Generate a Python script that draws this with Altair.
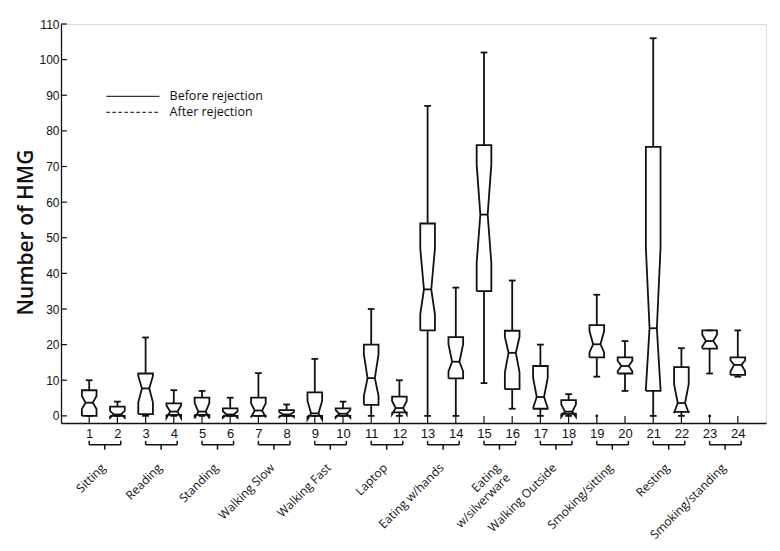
import altair as alt
import pandas as pd

# ---------------- data ----------------
box_id   = list(range(1, 25))
w_lo     = [0, 0, 0, 0, 0, 0, 0, 0, 0, 0, 0, 0, 0, 0, 9.2, 2.0, 0, 0, 11.0, 7.0, 0, 0, 11.9, 11.0]
q1       = [0, 0, 0.5, 0.3, 0.3, 0, 0, 0, 0, 0, 3.1, 1.0, 24.0, 10.5, 35.0, 7.5, 2.0, 0.6, 16.4, 11.9, 7.0, 1.1, 18.9, 11.5]
med      = [3.7, 0.4, 7.7, 1.2, 1.2, 0.4, 1.5, 0.4, 0.7, 0.6, 10.6, 2.2, 35.5, 15.2, 56.5, 17.7, 5.3, 1.2, 20.1, 14.0, 24.6, 3.6, 21.0, 14.3]
q3       = [7.2, 2.6, 11.9, 3.5, 5.1, 2.1, 5.1, 1.6, 6.6, 2.1, 20.0, 5.4, 54.0, 22.1, 76.0, 23.9, 14.0, 4.4, 25.5, 16.4, 75.5, 13.7, 24.0, 16.4]
w_hi     = [10, 4, 22, 7.2, 7.0, 5.1, 12, 3.2, 16, 4.0, 30, 10, 87, 36, 102, 38, 20, 6.1, 34, 21, 106, 19, 24, 24]
notch_lo = [1.9, -0.5, 3.8, -0.6, -0.7, -0.5, -0.4, -0.3, -1.0, -0.5, 5.6, 0.4, 28.5, 12.5, 43.0, 12.2, 2.2, -0.3, 17.8, 12.5, 7.5, 0.8, 19.5, 12.5]
notch_hi = [5.6, 1.4, 11.2, 2.9, 3.6, 1.3, 3.5, 1.1, 4.2, 1.6, 17.3, 4.2, 47.0, 20.1, 70.6, 22.2, 10.7, 3.2, 23.8, 15.5, 47.2, 8.9, 22.8, 15.6]
outlier_box = [19, 23]
outlier_val = [0, 0]
activities = ["Sitting", "Reading", "Standing", "Walking Slow", "Walking Fast", "Laptop",
              "Eating w/hands", "Eating\nw/silverware", "Walking Outside", "Smoking/sitting",
              "Resting", "Smoking/standing"]
y_ticks = list(range(0, 111, 10))
legend_labels = ["Before rejection", "After rejection"]
legend_styles = ["solid", "dash"]

# ---------------- geometry / style constants ----------------
HW, NW, CAP = 0.26, 0.13, 0.12          # half widths (x units)
Y_MIN, Y_MAX = -2, 110
X_MIN, X_MAX = 0, 25
SW = 1.8
INK = "#111111"

xs = alt.Scale(domain=[X_MIN, X_MAX], nice=False, zero=False)
ys = alt.Scale(domain=[Y_MIN, Y_MAX], nice=False, zero=False)

X_AX = alt.Axis(values=box_id, ticks=False, grid=False, labelFont="Liberation Sans",
                labelFontSize=13, labelColor=INK, labelPadding=4, domainColor=INK,
                domainWidth=1.3, labelFlush=False)
Y_AX = alt.Axis(values=y_ticks, ticks=False, grid=False, labelFont="Liberation Sans",
                labelFontSize=12, labelColor=INK, labelPadding=2, domainColor=INK,
                domainWidth=1.3, titleFont="Open Sans", titleFontSize=21,
                titleFontWeight=600, titleColor=INK, titlePadding=2, titleY=208)


def X(field):
    return alt.X(field, type="quantitative", scale=xs, axis=X_AX, title="")


def Y(field):
    return alt.Y(field, type="quantitative", scale=ys, axis=Y_AX, title="Number of HMG")


# notched box outlines
poly = []
for i, b in enumerate(box_id):
    pts = [(b - HW, q1[i]), (b + HW, q1[i]), (b + HW, notch_lo[i]), (b + NW, med[i]),
           (b + HW, notch_hi[i]), (b + HW, q3[i]), (b - HW, q3[i]), (b - HW, notch_hi[i]),
           (b - NW, med[i]), (b - HW, notch_lo[i]), (b - HW, q1[i])]
    for k, (x, y) in enumerate(pts):
        poly.append({"box": b, "k": k, "x": x, "y": y})
poly = pd.DataFrame(poly)

stats = pd.DataFrame({"box": box_id, "wlo": w_lo, "q1": q1, "med": med, "q3": q3, "whi": w_hi})
stats["cl"] = stats["box"] - CAP
stats["cr"] = stats["box"] + CAP
stats["ml"] = stats["box"] - NW
stats["mr"] = stats["box"] + NW

base = alt.Chart(stats)

boxes = alt.Chart(poly).mark_line(color=INK, strokeWidth=SW, strokeJoin="miter").encode(
    x=X("x"), y=Y("y"), detail="box:N", order="k:Q")

whisk_hi = base.mark_rule(color=INK, strokeWidth=SW).encode(x=X("box"), y=Y("q3"), y2="whi:Q")
whisk_lo = base.mark_rule(color=INK, strokeWidth=SW).encode(x=X("box"), y=Y("wlo"), y2="q1:Q")
cap_hi = base.mark_rule(color=INK, strokeWidth=SW).encode(x=X("cl"), x2="cr:Q", y=Y("whi"))
cap_lo = base.mark_rule(color=INK, strokeWidth=SW).encode(x=X("cl"), x2="cr:Q", y=Y("wlo"))
median = base.mark_rule(color=INK, strokeWidth=SW).encode(x=X("ml"), x2="mr:Q", y=Y("med"))

outl = alt.Chart(pd.DataFrame({"box": outlier_box, "v": outlier_val})).mark_point(
    filled=True, color=INK, size=8, opacity=1).encode(x=X("box"), y=Y("v"))

# inward axis ticks
xt = pd.DataFrame({"x": box_id, "y0": Y_MIN, "y1": 0})
xticks = alt.Chart(xt).mark_rule(color=INK, strokeWidth=1.2).encode(x=X("x"), y=Y("y0"), y2="y1:Q")
yt = pd.DataFrame({"y": y_ticks, "x0": X_MIN, "x1": X_MIN + 0.21})
yticks = alt.Chart(yt).mark_rule(color=INK, strokeWidth=1.2).encode(x=X("x0"), x2="x1:Q", y=Y("y"))

# group brackets and activity labels
YH, YUP, YDN, YLAB = -8.1, -7.0, -9.5, -14.0
br = []
lab = []
for k, name in enumerate(activities):
    left, right = 2 * k + 1, 2 * k + 2 + 0.12
    ctr = 2 * k + 1.55
    br += [
        {"x": left, "x2": right, "y": YH, "y2": YH},
        {"x": left, "x2": left, "y": YH, "y2": YUP},
        {"x": right, "x2": right, "y": YH, "y2": YUP},
        {"x": ctr, "x2": ctr, "y": YH, "y2": YDN},
    ]
    lab.append({"x": 2 * k + 1.5, "y": YLAB, "t": name})
brackets = alt.Chart(pd.DataFrame(br)).mark_rule(color=INK, strokeWidth=1.5).encode(
    x=X("x"), x2="x2:Q", y=Y("y"), y2="y2:Q")
labels = alt.Chart(pd.DataFrame(lab)).mark_text(
    angle=315, align="right", baseline="middle", font="Open Sans", fontSize=12,
    color=INK, lineBreak="\n").encode(x=X("x"), y=Y("y"), text="t:N")

# manual legend
leg = pd.DataFrame({"lab": legend_labels, "style": legend_styles,
                    "x0": [1.61, 1.61], "x1": [3.49, 3.49], "xt": [3.85, 3.85], "y": [89.7, 85.2]})
leg_lines = alt.Chart(leg).mark_rule(color="#333333", strokeWidth=1.3).encode(
    x=X("x0"), x2="x1:Q", y=Y("y"),
    strokeDash=alt.StrokeDash("style:N", legend=None,
                              scale=alt.Scale(domain=["solid", "dash"], range=[[1, 0], [3.5, 2.5]])))
leg_text = alt.Chart(leg).mark_text(align="left", baseline="middle", font="Open Sans",
                                    fontSize=12.5, color=INK).encode(x=X("xt"), y=Y("y"), text="lab:N")

chart = alt.layer(xticks, yticks, whisk_hi, whisk_lo, cap_hi, cap_lo, boxes, median,
                  outl, brackets, labels, leg_lines, leg_text).properties(
    width=705, height=399,
    padding={"left": 7, "top": 10, "right": 5, "bottom": 5},
).configure_view(strokeWidth=0).configure(background="white")

chart.save("out.html", embed_options={"renderer": "svg", "actions": False})
